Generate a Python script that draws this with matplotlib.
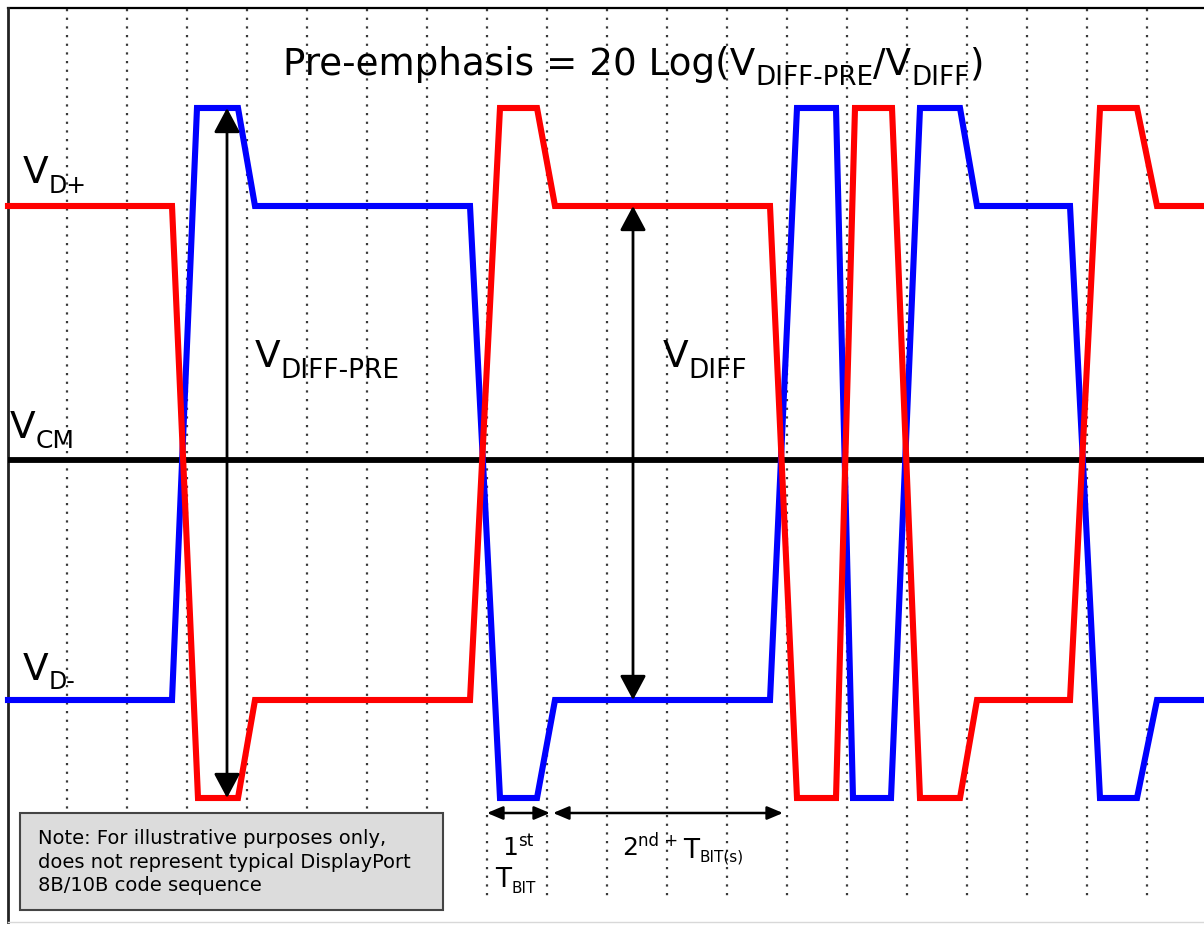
import matplotlib
matplotlib.use("Agg")
import matplotlib.pyplot as plt
from matplotlib.patches import Rectangle
from matplotlib.transforms import offset_copy

plt.rcParams["font.family"] = ["DejaVu Sans"]

# signal levels (screen units, y grows downwards)
LEVEL_PRE_HI = 108
LEVEL_HI = 206
LEVEL_CM = 460
LEVEL_LO = 700
LEVEL_PRE_LO = 798

# waveform corner times and levels
dp_t = [8, 172, 198, 238, 255, 470, 500, 537, 555, 770, 797, 836, 855, 892, 920, 960, 977, 1070, 1100, 1137, 1157, 1204]
dp_v = [LEVEL_HI, LEVEL_HI, LEVEL_PRE_LO, LEVEL_PRE_LO, LEVEL_LO, LEVEL_LO, LEVEL_PRE_HI, LEVEL_PRE_HI,
        LEVEL_HI, LEVEL_HI, LEVEL_PRE_LO, LEVEL_PRE_LO, LEVEL_PRE_HI, LEVEL_PRE_HI, LEVEL_PRE_LO, LEVEL_PRE_LO,
        LEVEL_LO, LEVEL_LO, LEVEL_PRE_HI, LEVEL_PRE_HI, LEVEL_HI, LEVEL_HI]
dm_t = [8, 172, 197, 238, 255, 470, 500, 537, 555, 770, 797, 836, 853, 891, 920, 960, 977, 1070, 1100, 1137, 1157, 1204]
dm_v = [LEVEL_LO, LEVEL_LO, LEVEL_PRE_HI, LEVEL_PRE_HI, LEVEL_HI, LEVEL_HI, LEVEL_PRE_LO, LEVEL_PRE_LO,
        LEVEL_LO, LEVEL_LO, LEVEL_PRE_HI, LEVEL_PRE_HI, LEVEL_PRE_LO, LEVEL_PRE_LO, LEVEL_PRE_HI, LEVEL_PRE_HI,
        LEVEL_HI, LEVEL_HI, LEVEL_PRE_LO, LEVEL_PRE_LO, LEVEL_LO, LEVEL_LO]

grid_x = [67 + 60 * k for k in range(19)]

note_lines = ["Note: For illustrative purposes only,",
              "does not represent typical DisplayPort",
              "8B/10B code sequence"]

fig = plt.figure(figsize=(12.04, 9.25), dpi=100)
ax = fig.add_axes([0, 0, 1, 1])
ax.set_xlim(0, 1204)
ax.set_ylim(925, 0)
ax.axis("off")
renderer = fig.canvas.get_renderer()


def rich_text(x, y, parts):
    # parts: (text, size in pt, baseline drop in px)
    dx = 0
    for s, size, drop in parts:
        tr = offset_copy(ax.transData, fig=fig, x=dx, y=-drop, units="dots")
        t = ax.text(x, y, s, fontsize=size, ha="left", va="baseline", transform=tr, zorder=6)
        dx += t.get_window_extent(renderer).width


# frame
ax.plot([8, 1204], [8, 8], color="black", lw=1.6, zorder=1)
ax.plot([8, 8], [8, 922], color="#222222", lw=2.0, zorder=1)
ax.plot([8, 1204], [922, 922], color="#d8d8d8", lw=1.0, zorder=1)

# dotted time grid
for gx in grid_x:
    ax.plot([gx, gx], [9, 897], color="#3a3a3a", lw=1.6, ls=(0, (1, 2.9)), zorder=1)

# common mode line
ax.plot([8, 1204], [LEVEL_CM, LEVEL_CM], color="black", lw=4.2, zorder=2, solid_capstyle="butt")

# waveforms
ax.plot(dm_t, dm_v, color="#0000ff", lw=4.4, zorder=3, solid_joinstyle="miter")
ax.plot(dp_t, dp_v, color="#ff0000", lw=4.4, zorder=4, solid_joinstyle="miter")

# amplitude arrows
vert = dict(arrowstyle="<|-|>,head_length=1.5,head_width=0.8", mutation_scale=10,
            color="black", lw=2.0, shrinkA=0, shrinkB=0)
ax.annotate("", xy=(227, LEVEL_PRE_HI), xytext=(227, LEVEL_PRE_LO), arrowprops=vert, zorder=5)
ax.annotate("", xy=(633, LEVEL_HI), xytext=(633, LEVEL_LO), arrowprops=vert, zorder=5)

# bit time arrows
horiz = dict(arrowstyle="<|-|>,head_length=0.95,head_width=0.4", mutation_scale=10,
             color="black", lw=1.8, shrinkA=0, shrinkB=0)
ax.annotate("", xy=(487, 813), xytext=(550, 813), arrowprops=horiz, zorder=5)
ax.annotate("", xy=(553, 813), xytext=(783, 813), arrowprops=horiz, zorder=5)

# labels
rich_text(283, 75, [("Pre-emphasis = 20 Log(V", 26.8, 0), ("DIFF-PRE", 18.8, 10),
                    ("/V", 26.8, 0), ("DIFF", 18.8, 10), (")", 26.8, 0)])
rich_text(23, 183, [("V", 27, 0), ("D+", 17, 10)])
rich_text(23, 680, [("V", 27, 0), ("D-", 17, 9)])
rich_text(10, 438, [("V", 27, 0), ("CM", 18, 10)])
rich_text(255, 367, [("V", 27, 0), ("DIFF-PRE", 19, 11)])
rich_text(663, 367, [("V", 27, 0), ("DIFF", 19, 11)])

rich_text(502, 855, [("1", 18, 0), ("st", 12, -9)])
rich_text(495, 887, [("T", 19, 0), ("BIT", 11, 6)])
rich_text(622, 855, [("2", 18, 0), ("nd + ", 12, -9), ("T", 19, 3), ("BIT(s)", 11, 7)])

# note box
ax.add_patch(Rectangle((20, 813), 423, 97, facecolor="#dcdcdc", edgecolor="#444444", lw=1.5, zorder=7))
ax.text(38, 862, "\n".join(note_lines), fontsize=14, ha="left", va="center",
        linespacing=1.3, zorder=8)

fig.savefig("out.png", dpi=100)
